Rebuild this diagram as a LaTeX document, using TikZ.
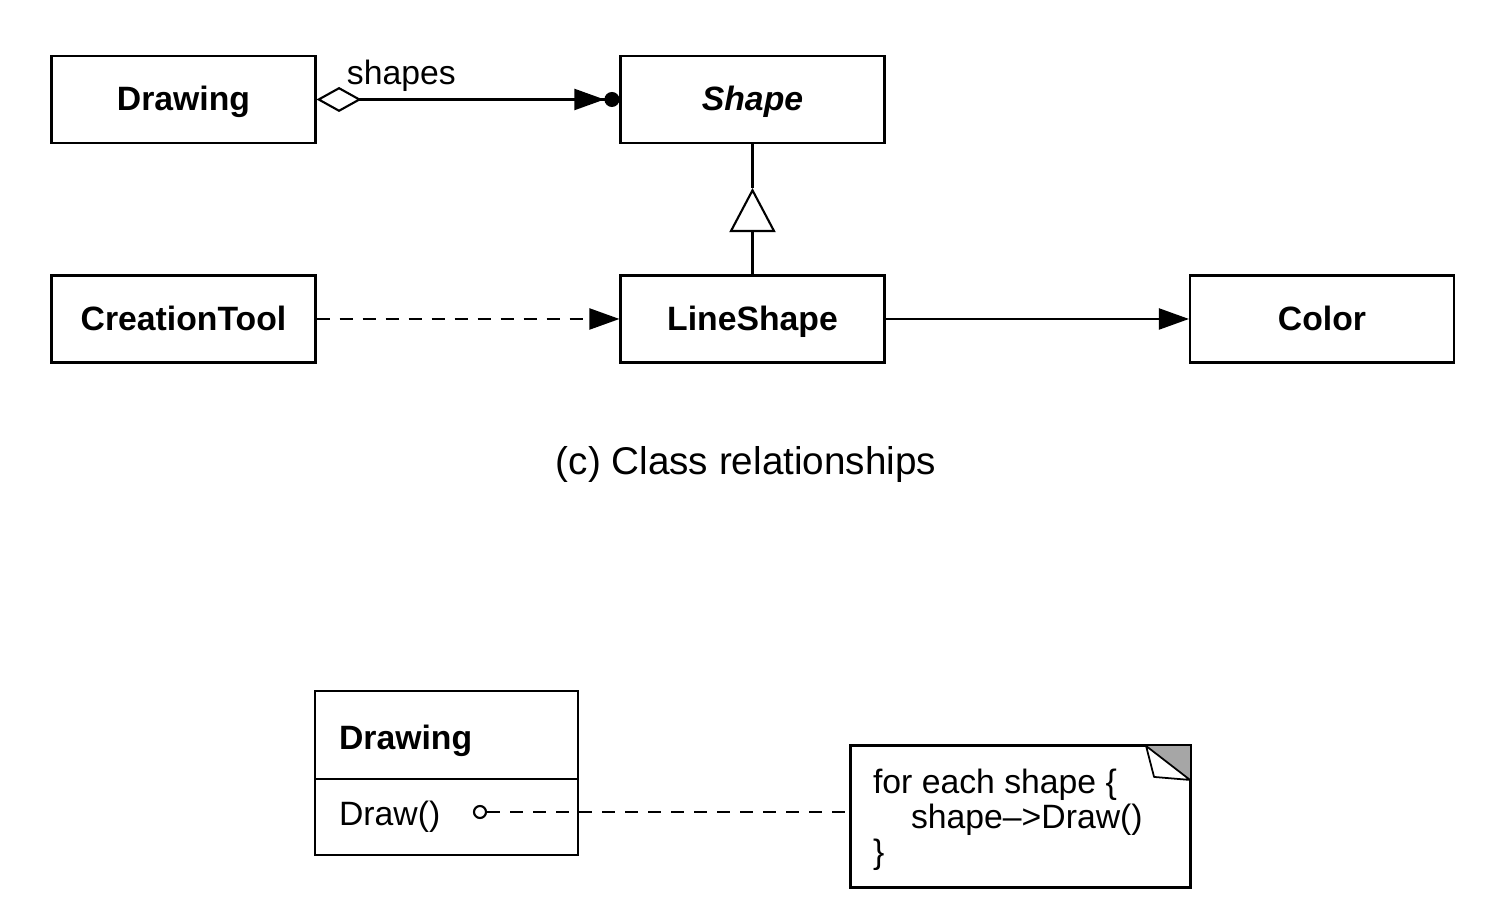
\documentclass[tikz,border=0pt]{standalone}
\usepackage{fontspec}
\setmainfont{Liberation Sans}
\usetikzlibrary{arrows.meta}
\usetikzlibrary{calc}
\usetikzlibrary{math}
\usetikzlibrary{positioning}

\tikzset{
  classbox/.style={draw, line width=0.6pt, minimum width=\boxw cm, minimum height=\boxh cm,
    text height=7.2pt, text depth=0.7pt, font=\fontsize{9.6}{11}\selectfont\bfseries},
  filledhead/.style={-{Triangle[length=3mm,width=2.1mm]}},
  udash/.style={dash pattern=on 1.3mm off 1mm},
}

\begin{document}
\begin{tikzpicture}[line width=0.6pt, font=\fontsize{9.6}{11}\selectfont]

  \tikzmath{
    \boxw  = 2.64;  % width of a class box
    \boxh  = 0.87;  % height of a class box
    \rowa  = 8.245; % first row
    \rowb  = 6.05;  % second row
  }

  \useasboundingbox (0,0) rectangle (14.86,9.24);

  % Classes
  \node[classbox] (Drawing)      at (1.835,\rowa) {Drawing};
  \node[classbox] (Shape)        at (7.525,\rowa) {\itshape Shape};
  \node[classbox] (CreationTool) at (1.835,\rowb) {CreationTool};
  \node[classbox] (LineShape)    at (7.525,\rowb) {LineShape};
  \node[classbox] (Color)        at (13.22,\rowb) {Color};

  % Aggregation of shapes
  \draw[{Diamond[open,length=4.5mm,width=2.5mm]}-{Triangle[length=3mm,width=2.1mm] Circle[length=1.5mm]}]
    (Drawing) -- node[pos=0.28, above, yshift=-1.5pt] (lblshapes) {shapes} (Shape);

  % Inheritance
  \coordinate (inh) at ($(Shape.south) + (0,-0.44)$);
  \draw[-{Triangle[open,length=4.4mm,width=4.6mm]}] (LineShape) -- (inh);
  \draw (inh) -- (Shape);

  % Creation and reference
  \draw[filledhead, udash] (CreationTool) -- (LineShape);
  \draw[filledhead] (LineShape) -- (Color);

  \node[font=\fontsize{11}{13}\selectfont] (caption) at (7.46,4.59) {(c) Class relationships};

  % Class with operation
  \node[draw, minimum width=2.63cm, minimum height=1.64cm] (DrawingCls) at (4.465,1.51) {};
  \coordinate (divL) at (3.15,1.45);
  \coordinate (divR) at (5.78,1.45);
  \draw (divL) -- (divR);
  \node[anchor=west, inner sep=0, font=\fontsize{9.6}{11}\selectfont\bfseries] (DrawingName) at (3.38,1.83) {Drawing};
  \node[anchor=west, inner sep=0] (DrawOp) at (3.38,1.07) {Draw()};
  \node[circle, draw, inner sep=0, minimum size=1.2mm] (opdot) at (4.80,1.12) {};

  % Note
  \node[draw, minimum width=3.39cm, minimum height=1.41cm] (Note) at (10.205,1.075) {};
  \fill[gray!70] ($(Note.north east)+(-0.47,0)$) -- (Note.north east) -- ($(Note.north east)+(0,-0.36)$) -- cycle;
  \draw[fill=white, line width=0.5pt, line join=round] ($(Note.north east)+(-0.45,-0.01)$)
    -- ($(Note.north east)+(-0.37,-0.32)$) -- ($(Note.north east)+(-0.01,-0.35)$) -- cycle;
  \draw (Note.north west) rectangle (Note.south east);
  \node[anchor=north west, inner sep=0, align=left, font=\fontsize{9.6}{10}\selectfont] (NoteText) at (8.72,1.56)
    {for each shape \{\\\hspace*{0.38cm}shape-->Draw()\\\}};

  \draw[udash] (opdot.east) -- (opdot.east -| Note.west);

\end{tikzpicture}
\end{document}
